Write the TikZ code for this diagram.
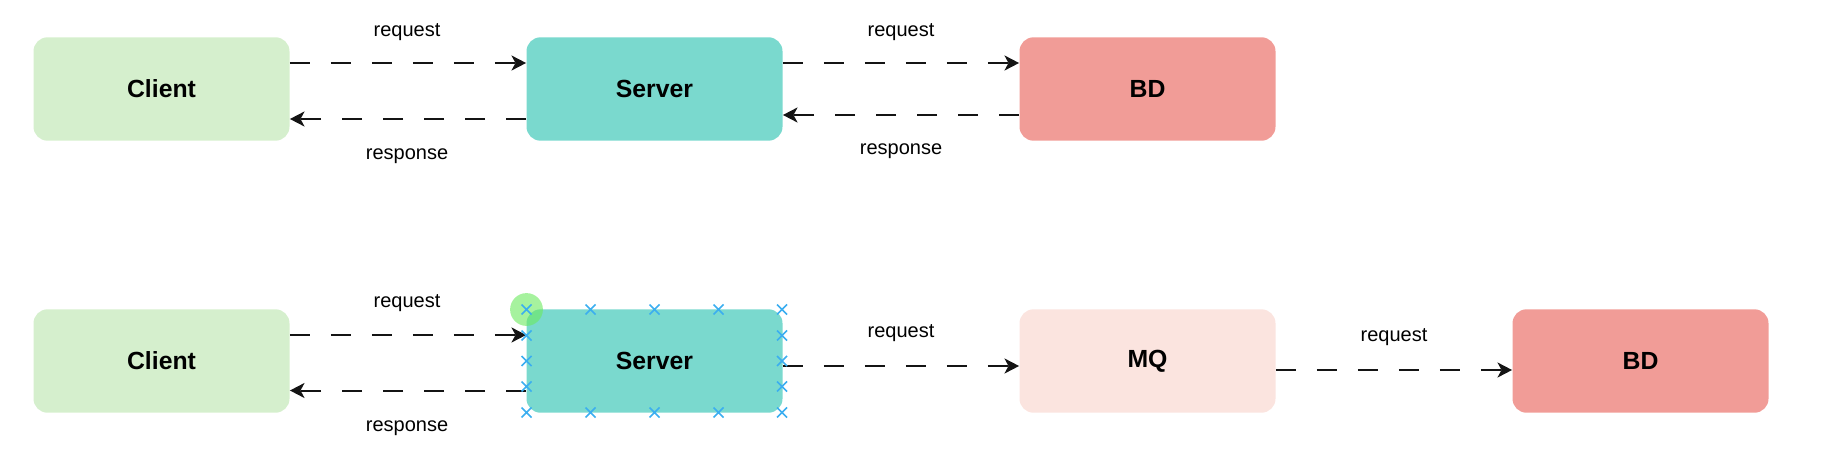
\documentclass[tikz,border=0pt]{standalone}
\usepackage{fontspec}
\setmainfont{Liberation Sans}
\usepackage{tikz}
\usetikzlibrary{arrows.meta}
\usepackage{xcolor}

\definecolor{clientgreen}{HTML}{D5EFCD}
\definecolor{serverteal}{HTML}{7AD9CE}
\definecolor{dbred}{HTML}{F19C97}
\definecolor{mqpink}{HTML}{FBE4DF}
\definecolor{selblue}{HTML}{3BAEF0}
\definecolor{selgreen}{HTML}{6BEA5E}

\tikzset{
  box/.style={rectangle, rounded corners=7pt, minimum width=128pt, minimum height=51.7pt,
    inner sep=0pt, font=\bfseries\fontsize{12.4}{15}\selectfont},
  flow/.style={line width=1pt, dash pattern=on 10.2pt off 10.3pt, color=black!92,
    -{Stealth[length=7.3pt,width=7.5pt,inset=2pt]}},
  lbl/.style={font=\fontsize{10}{12}\selectfont},
  selmark/.style={selblue, line width=0.8pt}
}

\begin{document}
\begin{tikzpicture}[x=0.5pt, y=-0.5pt]
\useasboundingbox (0,0) rectangle (1824,460);

% Without queue
\node[box, fill=clientgreen] (client1) at (161.5,89) {Client};
\node[box, fill=serverteal] (server1) at (654.5,89) {Server};
\node[box, fill=dbred] (bd1) at (1147.5,89) {BD};
\draw[flow] ([yshift=13pt]client1.east) -- ([yshift=13pt]server1.west);
\draw[flow] ([yshift=-15pt]server1.west) -- ([yshift=-15pt]client1.east);
\draw[flow] ([yshift=13pt]server1.east) -- ([yshift=13pt]bd1.west);
\draw[flow] ([yshift=-13pt]bd1.west) -- ([yshift=-13pt]server1.east);
\node[lbl] (req1) at (407,32) {request};
\node[lbl] (resp1) at (407,156) {response};
\node[lbl] (req2) at (901,32) {request};
\node[lbl] (resp2) at (901,151.5) {response};

% With queue
\node[box, fill=clientgreen] (client2) at (161.5,361) {Client};
\node[box, fill=serverteal] (server2) at (654.5,361) {Server};
\node[box, fill=mqpink] (mq) at (1147.5,361) {MQ};
\node[box, fill=dbred] (bd2) at (1640.5,361) {BD};
\draw[flow] ([yshift=13pt]client2.east) -- ([yshift=13pt]server2.west);
\draw[flow] ([yshift=-14.75pt]server2.west) -- ([yshift=-14.75pt]client2.east);
\draw[flow] ([yshift=-2.5pt]server2.east) -- ([yshift=-2.5pt]mq.west);
\draw[flow] ([yshift=-4.5pt]mq.east) -- ([yshift=-4.5pt]bd2.west);
\node[lbl] (req3) at (407,303.5) {request};
\node[lbl] (resp3) at (407,428) {response};
\node[lbl] (req4) at (901,333.5) {request};
\node[lbl] (req5) at (1394,337) {request};

% Selection handles
\fill[selgreen, opacity=0.6] (526.5,309.5) circle (8.2pt);
\foreach \x in {526.5,590.5,654.5,718.5,782} {
  \draw[selmark] (\x-5,304.5) -- (\x+5,314.5) (\x-5,314.5) -- (\x+5,304.5);
  \draw[selmark] (\x-5,407.5) -- (\x+5,417.5) (\x-5,417.5) -- (\x+5,407.5);
}
\foreach \y in {335.5,361,386.5} {
  \draw[selmark] (521.5,\y-5) -- (531.5,\y+5) (521.5,\y+5) -- (531.5,\y-5);
  \draw[selmark] (777,\y-5) -- (787,\y+5) (777,\y+5) -- (787,\y-5);
}
\end{tikzpicture}
\end{document}
